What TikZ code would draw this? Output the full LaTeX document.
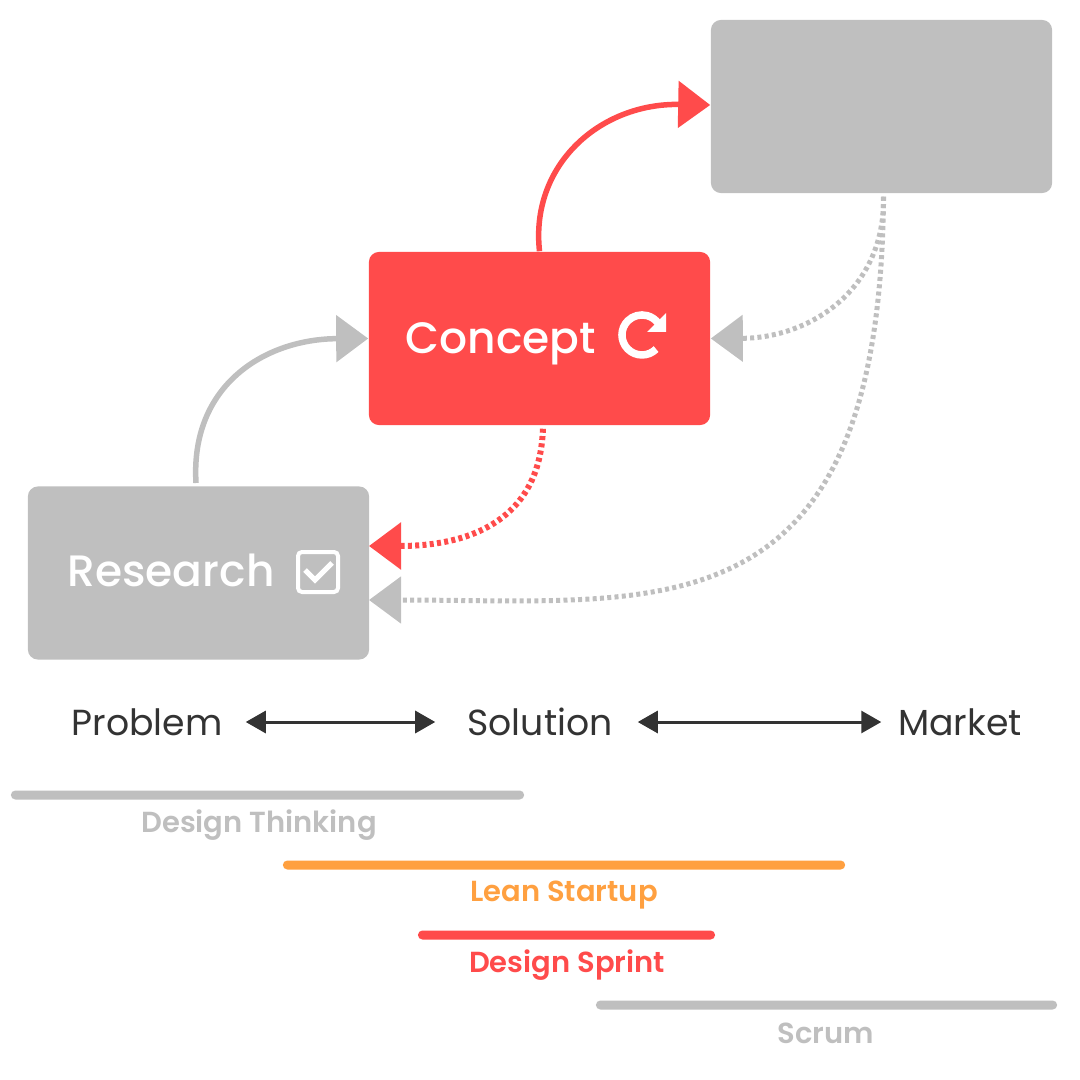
\documentclass[tikz,border=0pt]{standalone}
\usepackage{fontspec}
\setmainfont{Poppins}
\newfontfamily\medium{Poppins Medium}
\newfontfamily\semibold{Poppins SemiBold}
\usetikzlibrary{arrows.meta}
\definecolor{accent}{HTML}{FF4B4B}
\definecolor{muted}{HTML}{BFBFBF}
\definecolor{lean}{HTML}{FFA040}
\definecolor{ink}{HTML}{333333}
\tikzset{
  card/.style={fill=#1, rounded corners=0.1cm, minimum width=3.41cm, minimum height=1.73cm, inner sep=0pt},
  cardtext/.style={text=white, inner sep=0pt, font=\medium\fontsize{12.5}{13}\selectfont},
  axis/.style={text=ink, inner sep=0pt, minimum height=0.4cm, font=\fontsize{10.3}{11}\selectfont},
  barline/.style={fill=#1, rounded corners=0.045cm, minimum height=0.09cm, inner sep=0pt},
  barname/.style={text=#1, inner sep=0pt, font=\semibold\fontsize{8.25}{9}\selectfont},
  flow/.style={draw=#1, line width=0.055cm, -{Triangle[length=0.32cm,width=0.46cm]}},
  dots/.style={flow=#1, line width=0.05cm, dash pattern=on 0.04cm off 0.033cm},
  span/.style={draw=ink, line width=0.03cm, {Triangle[length=0.2cm,width=0.22cm]}-{Triangle[length=0.2cm,width=0.22cm]}}
}
\begin{document}
\begin{tikzpicture}[x=0.01cm,y=-0.01cm]
  \useasboundingbox (0,0) rectangle (1080,1080);

  \node[card=muted] (research) at (198.5,573) {};
  \node[card=accent] (concept) at (539.5,338.5) {};
  \node[card=muted] (market) at (881.5,106.5) {};

  \node[cardtext] (researchtext) at (171,570) {Research};
  \node[cardtext] (concepttext) at (501,344) {Concept};

  % icons
  \draw[white, line width=0.04cm, rounded corners=0.04cm] (298,552) rectangle (338,592);
  \draw[white, line width=0.05cm] (305,570) -- (315,580) -- (332,563);
  \draw[white, line width=0.075cm] (656.1,349.1) arc[start angle=45, end angle=325, radius=20];
  \fill[white] (666,313) -- (666,332) -- (647,332) -- cycle;

  \coordinate (redin) at (369,546);
  \coordinate (greyin) at (369,600);

  \draw[flow=muted] (196,483) .. controls (190,385) and (265,339) .. (concept.west);
  \draw[flow=accent] (concept.north) .. controls (530,165) and (600,103) .. ([yshift=0.015cm]market.west);
  \draw[dots=accent, line width=0.06cm, shorten <=0.03cm] ([xshift=0.035cm]concept.south) .. controls (540,520) and (470,546) .. (redin);
  \draw[dots=muted, shorten <=0.03cm] ([xshift=0.02cm]market.south) .. controls (885,290) and (810,338) .. (concept.east);
  \draw[dots=muted, shorten <=0.03cm] ([xshift=0.02cm]market.south) .. controls (880,640) and (660,600) .. (greyin);

  \node[axis, minimum width=1.96cm] (problem) at (147,722) {Problem};
  \node[axis, minimum width=2.02cm] (solution) at (540,722) {Solution};
  \node[axis, minimum width=1.56cm] (marketlabel) at (960,722) {Market};

  \draw[span, shorten >=0.03cm] (problem.east) -- (solution.west);
  \draw[span, shorten <=-0.04cm] (solution.east) -- (marketlabel.west);

  \node[barline=muted, minimum width=5.13cm] (thinkingbar) at (267.5,795) {};
  \node[barline=lean, minimum width=5.62cm] (leanbar) at (564,865) {};
  \node[barline=accent, minimum width=2.97cm] (sprintbar) at (566.5,935) {};
  \node[barline=muted, minimum width=4.61cm] (scrumbar) at (826.5,1005) {};

  \node[barname=muted] (thinking) at (259,825) {Design Thinking};
  \node[barname=lean] (leanname) at (564,895) {Lean Startup};
  \node[barname=accent] (sprint) at (567,965) {Design Sprint};
  \node[barname=muted] (scrum) at (826,1033) {Scrum};
\end{tikzpicture}
\end{document}
